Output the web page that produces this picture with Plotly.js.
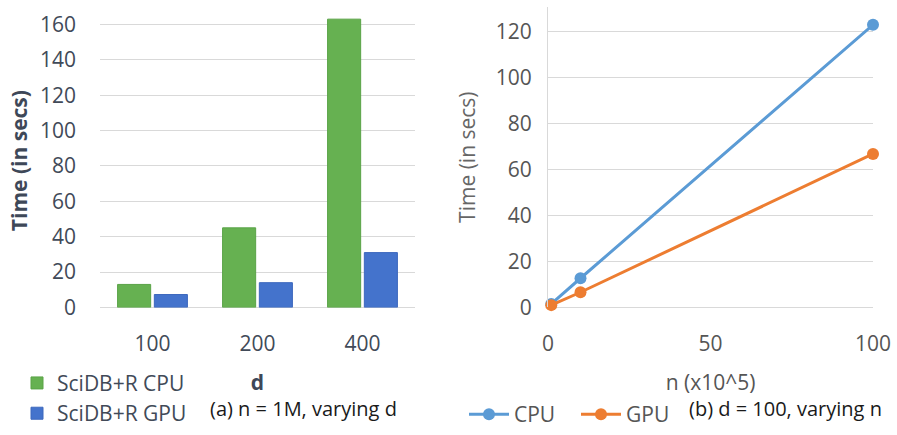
<!DOCTYPE html>
<html>
<head>
<meta charset="utf-8">
<script src="https://cdn.plot.ly/plotly-3.0.1.min.js"></script>
<style>html,body{margin:0;padding:0;background:#fff;}#chart{width:897px;height:435px;}</style>
</head>
<body>
<div id="chart"></div>
<script>
// Panel (a): n = 1M, varying d
const dCategories = ["100", "200", "400"];
const cpuTimeByD = [13, 45, 163];
const gpuTimeByD = [7.3, 14, 31];
const barNames = ["SciDB+R CPU", "SciDB+R GPU"];

// Panel (b): d = 100, varying n
const nValues = [1, 10, 100];
const cpuTimeByN = [1.5, 12.7, 123];
const gpuTimeByN = [1, 6.6, 66.8];
const lineNames = ["CPU", "GPU"];

const leftYTicks = [0, 20, 40, 60, 80, 100, 120, 140, 160];
const rightYTicks = [0, 20, 40, 60, 80, 100, 120];
const rightXTicks = [0, 50, 100];

const FONT = "Open Sans, sans-serif";
const TICKCOL = "#414a58";
const W = 897, H = 435;
const px = v => v / W;
const py = v => (H - v) / H;

const traces = [
  {type: "bar", x: dCategories, y: cpuTimeByD, name: barNames[0], xaxis: "x", yaxis: "y",
   marker: {color: "#66b151", line: {color: "#5aa347", width: 1}}, legend: "legend", legendgroup: "a1"},
  {type: "bar", x: dCategories, y: gpuTimeByD, name: barNames[1], xaxis: "x", yaxis: "y",
   marker: {color: "#4473cc", line: {color: "#3d68bd", width: 1}}, legend: "legend", legendgroup: "a2"},
  {type: "scatter", mode: "lines+markers", x: nValues, y: cpuTimeByN, name: lineNames[0], xaxis: "x2", yaxis: "y2",
   line: {color: "#5b9bd5", width: 3}, marker: {color: "#5b9bd5", size: 12}, cliponaxis: false, legend: "legend2"},
  {type: "scatter", mode: "lines+markers", x: nValues, y: gpuTimeByN, name: lineNames[1], xaxis: "x2", yaxis: "y2",
   line: {color: "#ed7d31", width: 3}, marker: {color: "#ed7d31", size: 12}, cliponaxis: false, legend: "legend2"}
];

const layout = {
  width: W, height: H,
  margin: {l: 0, r: 0, t: 0, b: 0},
  paper_bgcolor: "#ffffff", plot_bgcolor: "#ffffff",
  font: {family: FONT, size: 21, color: TICKCOL},
  showlegend: true,
  barmode: "group", bargap: 0.3, bargroupgap: 0.1,
  xaxis: {domain: [px(100), px(415)], type: "category", showgrid: false, showline: false, zeroline: false,
          ticks: "", ticklabelstandoff: 22, tickfont: {size: 21, color: TICKCOL},
          title: {text: "<b>d</b>", font: {size: 21, color: "#3e4858"}, standoff: 18}},
  yaxis: {domain: [py(311), py(14)], range: [0, 166], tickvals: leftYTicks, showgrid: true, gridcolor: "#d9d9d9",
          gridwidth: 1, zeroline: true, zerolinecolor: "#d9d9d9", showline: false, ticks: "",
          ticklabelstandoff: 23, tickfont: {size: 21, color: TICKCOL},
          title: {text: "<b>Time (in secs)</b>", font: {size: 21, color: "#3e4858"}, standoff: 6}},
  xaxis2: {domain: [px(548), px(873)], range: [0, 100], tickvals: rightXTicks, showgrid: false, zeroline: false,
           showline: false, ticks: "", ticklabelstandoff: 22, anchor: "y2", tickfont: {size: 21, color: "#555555"},
           title: {text: "n (x10^5)", font: {size: 21, color: "#555555"}, standoff: 18}},
  yaxis2: {domain: [py(311), py(7)], range: [0, 130.8], tickvals: rightYTicks, anchor: "x2", showgrid: true,
           gridcolor: "#d9d9d9", zeroline: true, zerolinecolor: "#d9d9d9", showline: true, linecolor: "#d9d9d9",
           linewidth: 1, ticks: "", ticklabelstandoff: 11, tickfont: {size: 21, color: "#555555"},
           title: {text: "Time (in secs)", font: {size: 21, color: "#666666"}, standoff: 14}},
  legend: {x: px(17), y: py(367), xanchor: "left", yanchor: "top", orientation: "v", bgcolor: "rgba(0,0,0,0)",
           font: {size: 21, color: "#414a58"}, tracegroupgap: 4, traceorder: "normal"},
  legend2: {x: px(464), y: py(399), xanchor: "left", yanchor: "top", orientation: "h", bgcolor: "rgba(0,0,0,0)",
            font: {size: 21, color: "#555555"}, itemwidth: 40, entrywidth: 57},
  annotations: [
    {text: "(a) n = 1M, varying d", x: px(303), y: py(413), xref: "paper", yref: "paper", xanchor: "center",
     yanchor: "middle", showarrow: false, font: {size: 20, color: "#1a1a1a"}},
    {text: "(b) d = 100, varying n", x: px(785), y: py(413), xref: "paper", yref: "paper", xanchor: "center",
     yanchor: "middle", showarrow: false, font: {size: 20, color: "#1a1a1a"}}
  ]
};

Plotly.newPlot("chart", traces, layout, {staticPlot: true, displayModeBar: false});
</script>
</body>
</html>
